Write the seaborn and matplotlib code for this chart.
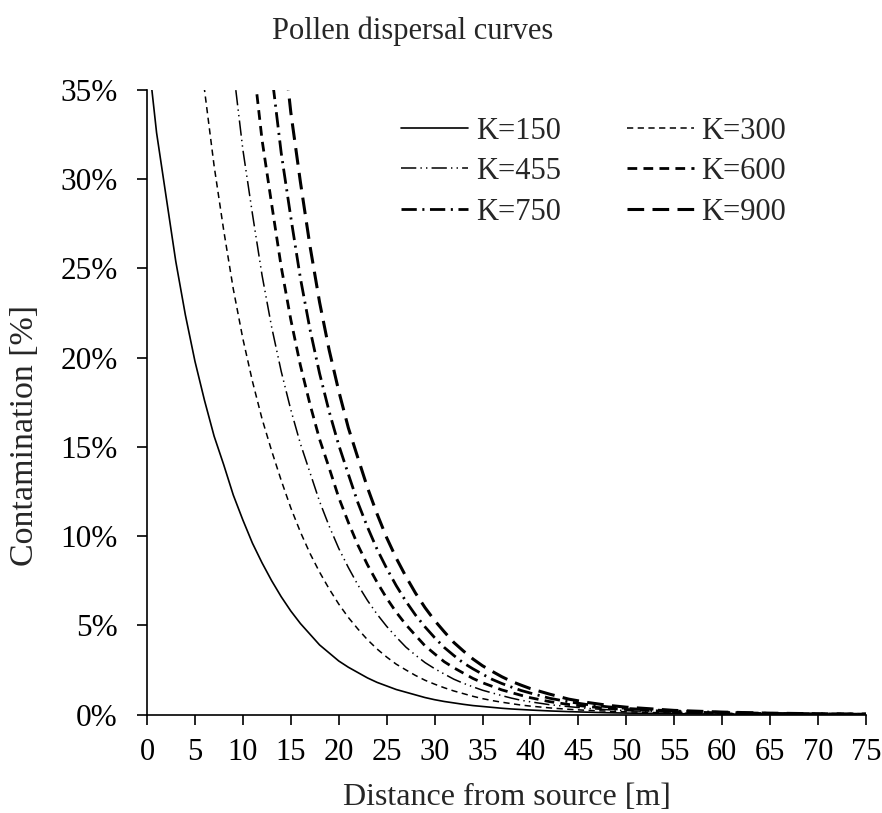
import numpy as np
import pandas as pd
import matplotlib
matplotlib.use("Agg")
import matplotlib.pyplot as plt
from matplotlib.ticker import PercentFormatter, MultipleLocator
import seaborn as sns

nan = np.nan

# Distance from source [m]
DIST = [0, 1, 2, 3, 4, 5, 6, 7, 8, 9, 10, 11, 12, 13, 14, 15, 16, 17, 18, 19,
        20, 21, 22, 23, 24, 25, 26, 27, 28, 29, 30, 31, 32, 33, 34, 35, 36, 37,
        38, 39, 40, 42, 44, 46, 48, 50, 55, 60, 65, 70, 75]

# Contamination [%] (nan = far above the visible 35% limit)
K150 = [37.5, 32.6, 29.0, 25.4, 22.4, 19.8, 17.6, 15.6, 14.0, 12.3, 10.9, 9.6,
        8.5, 7.5, 6.6, 5.8, 5.1, 4.5, 3.9, 3.45, 3.0, 2.65, 2.35, 2.05, 1.8,
        1.6, 1.4, 1.25, 1.1, 0.95, 0.83, 0.73, 0.65, 0.57, 0.50, 0.45, 0.40,
        0.35, 0.31, 0.28, 0.25, 0.20, 0.16, 0.13, 0.10, 0.08, 0.045, 0.025,
        0.015, 0.008, 0.005]
K300 = [nan, nan, nan, nan, nan, 40.0, 35.0, 30.75, 27.14, 23.85, 21.06, 18.67,
        16.57, 14.78, 13.12, 11.58, 10.23, 9.03, 7.98, 7.04, 6.19, 5.44, 4.79,
        4.19, 3.67, 3.22, 2.82, 2.50, 2.19, 1.92, 1.70, 1.50, 1.32, 1.17, 1.02,
        0.89, 0.78, 0.69, 0.61, 0.53, 0.47, 0.37, 0.29, 0.23, 0.19, 0.15, 0.08,
        0.05, 0.027, 0.016, 0.009]
K455 = [nan, nan, nan, nan, nan, nan, nan, nan, 41.3, 36.2, 31.66, 28.05, 24.62,
        21.72, 19.23, 17.08, 15.18, 13.56, 11.94, 10.56, 9.31, 8.24, 7.26, 6.39,
        5.62, 4.94, 4.34, 3.78, 3.33, 2.91, 2.57, 2.27, 1.98, 1.75, 1.55, 1.36,
        1.21, 1.06, 0.92, 0.80, 0.71, 0.55, 0.44, 0.34, 0.27, 0.215, 0.125,
        0.07, 0.04, 0.022, 0.013]
K600 = [nan, nan, nan, nan, nan, nan, nan, nan, nan, nan, 42.1, 36.97, 32.21,
        28.61, 25.09, 22.13, 19.57, 17.39, 15.43, 13.82, 12.16, 10.77, 9.49,
        8.39, 7.41, 6.52, 5.73, 5.04, 4.44, 3.85, 3.40, 2.96, 2.62, 2.32, 2.02,
        1.78, 1.58, 1.38, 1.23, 1.08, 0.94, 0.72, 0.56, 0.445, 0.345, 0.28,
        0.16, 0.09, 0.05, 0.028, 0.016]
K750 = [nan, nan, nan, nan, nan, nan, nan, nan, nan, nan, nan, nan, 41.0, 35.95,
        31.47, 27.87, 24.46, 21.59, 19.12, 16.98, 15.10, 13.47, 11.87, 10.50,
        9.26, 8.19, 7.22, 6.35, 5.58, 4.91, 4.31, 3.76, 3.31, 2.89, 2.56, 2.26,
        1.97, 1.74, 1.54, 1.35, 1.20, 0.91, 0.71, 0.55, 0.435, 0.34, 0.195,
        0.115, 0.065, 0.036, 0.02]
K900 = [nan, nan, nan, nan, nan, nan, nan, nan, nan, nan, nan, nan, nan, nan,
        38.7, 33.75, 29.85, 26.26, 23.11, 20.43, 18.13, 16.07, 14.38, 12.71,
        11.24, 9.91, 8.76, 7.74, 6.81, 5.99, 5.27, 4.64, 4.04, 3.56, 3.11, 2.73,
        2.42, 2.12, 1.86, 1.65, 1.45, 1.14, 0.86, 0.67, 0.52, 0.41, 0.23, 0.135,
        0.075, 0.042, 0.024]

LABELS = ["K=150", "K=300", "K=455", "K=600", "K=750", "K=900"]
SERIES = [K150, K300, K455, K600, K750, K900]

STYLES = {
    "K=150": dict(lw=1.2, ls="-"),
    "K=300": dict(lw=1.1, ls=(0, (4.5, 3.2))),
    "K=455": dict(lw=1.1, ls=(0, (11, 3, 1, 3, 1, 3))),
    "K=600": dict(lw=2.0, ls=(0, (7, 4.5))),
    "K=750": dict(lw=2.0, ls=(0, (11, 4, 1.5, 4))),
    "K=900": dict(lw=2.2, ls=(0, (12, 6))),
}

sns.set_style("ticks")
plt.rcParams["font.family"] = ["Liberation Serif", "DejaVu Serif"]
plt.rcParams["lines.scale_dashes"] = False
plt.rcParams["axes.linewidth"] = 1.2

fig = plt.figure(figsize=(8.82, 8.13), dpi=100)
ax = fig.add_axes([147 / 882, 1 - 714.5 / 813, (866 - 147) / 882, (714.5 - 90) / 813])

for lab, vals in zip(LABELS, SERIES):
    df = pd.DataFrame({"dist": DIST, "cont": vals}).dropna()
    st = STYLES[lab]
    sns.lineplot(data=df, x="dist", y="cont", ax=ax, color="black",
                 linewidth=st["lw"], linestyle=st["ls"], label=lab,
                 estimator=None, legend=False)

ax.set_xlim(0, 75)
ax.set_ylim(0, 35)
ax.xaxis.set_major_locator(MultipleLocator(5))
ax.yaxis.set_major_locator(MultipleLocator(5))
ax.yaxis.set_major_formatter(PercentFormatter(xmax=100, decimals=0))
ax.tick_params(axis="both", direction="out", length=7, width=1.2,
               colors="black")
ax.tick_params(axis="y", pad=14, labelsize=22.5)
ax.tick_params(axis="x", pad=10, labelsize=22)
ax.set_xlabel("")
ax.set_ylabel("")
sns.despine(ax=ax)
ax.spines["left"].set_color("black")
ax.spines["bottom"].set_color("black")

fig.text(413 / 882, 1 - 31 / 813, "Pollen dispersal curves", ha="center",
         va="center", fontsize=22)
fig.text(507 / 882, 1 - 797 / 813, "Distance from source [m]", ha="center",
         va="center", fontsize=23)
fig.text(25 / 882, 1 - 436 / 813, "Contamination [%]", ha="center",
         va="center", rotation=90, fontsize=24.5)

handles, labels = ax.get_legend_handles_labels()
order = [0, 2, 4, 1, 3, 5]  # column-major fill -> row-wise reading order
leg = ax.legend([handles[i] for i in order], [labels[i] for i in order],
                ncol=2, frameon=False, fontsize=22,
                loc="upper left", bbox_to_anchor=(401 / 882, 1 - 116.5 / 813),
                bbox_transform=fig.transFigure, handlelength=2.2,
                handletextpad=0.25, columnspacing=2.15, labelspacing=0.38,
                borderaxespad=0, borderpad=0)

fig.savefig("out.png", dpi=100)
